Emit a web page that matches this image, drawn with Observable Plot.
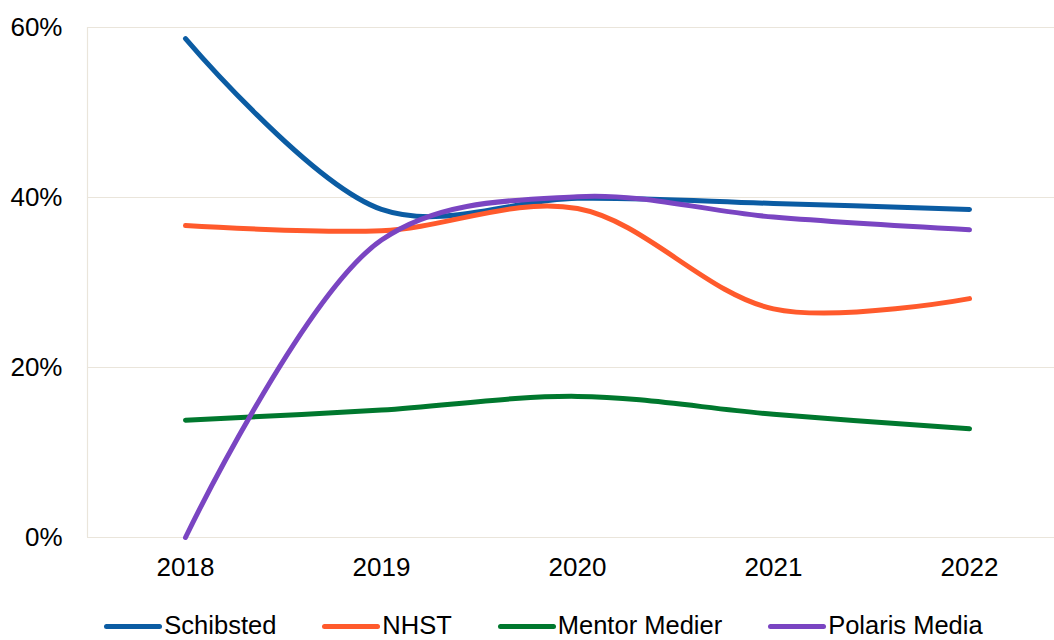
<!DOCTYPE html>
<html>
<head>
<meta charset="utf-8">
<script src="https://cdn.jsdelivr.net/npm/d3@7"></script>
<script src="https://cdn.jsdelivr.net/npm/@observablehq/plot@0.6"></script>
<style>
  body { margin: 0; background: #fff; font-family: "Liberation Sans", Arial, sans-serif; }
  #wrap { width: 1054px; height: 640px; position: relative; overflow: hidden; }
  .legend { position: absolute; top: 614px; left: 0; width: 1054px; box-sizing: border-box; padding-left: 33px; display: flex; justify-content: center; font-size: 25.5px; line-height: 22px; color: #000; }
  .item { display: flex; align-items: center; margin: 0 23px; }
  .sw { width: 58px; height: 5px; border-radius: 3px; margin-right: 2px; margin-top: 3px; }
</style>
</head>
<body>
<div id="wrap"></div>
<script>
const years = [2018, 2019, 2020, 2021, 2022];
const seriesNames = ["Schibsted", "NHST", "Mentor Medier", "Polaris Media"];
const colors = ["#0B5CA3", "#FF5A2C", "#00782E", "#7A45C2"];
const schibsted = [0.587, 0.386, 0.399, 0.393, 0.386];
const nhst = [0.367, 0.361, 0.387, 0.269, 0.281];
const mentor = [0.138, 0.150, 0.166, 0.145, 0.128];
const polaris = [0.000, 0.350, 0.401, 0.377, 0.362];
const yTicks = [0, 0.2, 0.4, 0.6];

const allValues = [schibsted, nhst, mentor, polaris];
const data = [];
seriesNames.forEach((name, i) => years.forEach((yr, j) => data.push({series: name, year: yr, value: allValues[i][j]})));

const chart = Plot.plot({
  width: 1054,
  height: 600,
  marginLeft: 87,
  marginRight: 0,
  marginTop: 27,
  marginBottom: 63,
  style: {fontFamily: '"Liberation Sans", Arial, sans-serif', fontSize: "26px", color: "#000", background: "#fff", overflow: "visible"},
  x: {type: "linear", domain: [2017.5, 2022.5], range: [87, 1067]},
  y: {domain: [0, 0.6], range: [537, 27]},
  color: {domain: seriesNames, range: colors},
  marks: [
    Plot.ruleY(yTicks, {stroke: "#EAE5DB", strokeWidth: 1.2}),
    Plot.ruleX([2017.5], {y1: 0, y2: 0.6, stroke: "#EAE5DB", strokeWidth: 1.2}),
    Plot.axisY({ticks: yTicks, tickFormat: d3.format(".0%"), tickSize: 0, tickPadding: 25, label: null, fontSize: 26}),
    Plot.axisX({ticks: years, tickFormat: d => String(d), tickSize: 0, tickPadding: 20, label: null, fontSize: 26}),
    Plot.line(data, {x: "year", y: "value", z: "series", stroke: "series", strokeWidth: 5, curve: "catmull-rom", strokeLinecap: "round", strokeLinejoin: "round"})
  ]
});
document.getElementById("wrap").appendChild(chart);

const legend = document.createElement("div");
legend.className = "legend";
seriesNames.forEach((name, i) => {
  const it = document.createElement("div");
  it.className = "item";
  const sw = document.createElement("div");
  sw.className = "sw";
  sw.style.background = colors[i];
  const t = document.createElement("span");
  t.textContent = name;
  it.appendChild(sw); it.appendChild(t);
  legend.appendChild(it);
});
document.getElementById("wrap").appendChild(legend);
</script>
</body>
</html>
